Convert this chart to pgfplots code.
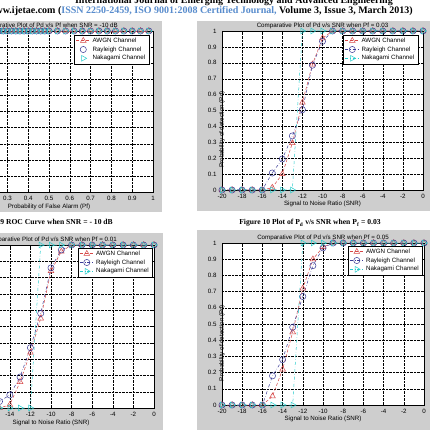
\documentclass[border=0pt]{standalone}
\usepackage{fontspec}
\setmainfont{Liberation Serif}
\setsansfont{Liberation Sans}
\usepackage{pgfplots}
\usepackage{pgfplotstable}
\pgfplotsset{compat=1.18}

\definecolor{panel}{RGB}{206,206,206}
\definecolor{awgn}{RGB}{214,72,72}
\definecolor{ray}{RGB}{58,58,150}
\definecolor{naka}{RGB}{40,205,205}
\definecolor{hdrblue}{RGB}{88,140,205}

\newcommand\plotfont{\sffamily\fontsize{6.2}{7}\selectfont}
\newcommand\capfont{\rmfamily\bfseries\fontsize{7.6}{9}\selectfont}

% Pd versus SNR, Pf = 0.03
\pgfplotstableread{
snr awgn ray naka
-20 0 0 0
-19 0 0 0
-18 0 0 0
-17 0 0 0
-16 0 0 0
-15 0.015 0.107 0
-14 0.10 0.195 0
-13 0.295 0.34 0
-12 0.55 0.505 1
-11 0.79 0.785 1
-10 0.955 0.935 1
-9 1 1 1
-8 1 1 1
-7 1 1 1
-6 1 1 1
-5 1 1 1
-4 1 1 1
-3 1 1 1
-2 1 1 1
-1 1 1 1
0 1 1 1
}\tabPfA

% Pd versus SNR, Pf = 0.01
\pgfplotstableread{
snr awgn ray naka
-20 0 0 0
-19 0 0 0
-18 0 0 0
-17 0 0 0
-16 0 0 0
-15 0 0.04 0
-14 0.02 0.08 0
-13 0.16 0.19 0
-12 0.34 0.37 0
-11 0.55 0.58 1
-10 0.84 0.86 1
-9 0.96 0.97 1
-8 1 1 1
-7 1 1 1
-6 1 1 1
-5 1 1 1
-4 1 1 1
-3 1 1 1
-2 1 1 1
-1 1 1 1
0 1 1 1
}\tabPfB

% Pd versus SNR, Pf = 0.05
\pgfplotstableread{
snr awgn ray naka
-20 0 0 0
-19 0 0 0
-18 0 0 0
-17 0 0 0
-16 0 0 0
-15 0.054 0.18 0
-14 0.22 0.28 0
-13 0.45 0.48 0
-12 0.72 0.67 1
-11 0.90 0.86 1
-10 0.975 0.97 1
-9 1 1 1
-8 1 1 1
-7 1 1 1
-6 1 1 1
-5 1 1 1
-4 1 1 1
-3 1 1 1
-2 1 1 1
-1 1 1 1
0 1 1 1
}\tabPfC

% ROC at SNR = -10 dB
\pgfplotstableread{
pf awgn ray naka
0.02 1 1 1
0.04 1 1 1
0.06 1 1 1
0.08 1 1 1
0.10 1 1 1
0.12 1 1 1
0.14 1 1 1
0.16 1 1 1
0.18 1 1 1
0.20 1 1 1
0.22 1 1 1
0.24 1 1 1
0.26 1 1 1
0.28 1 1 1
0.30 1 1 1
0.32 1 1 1
0.34 1 1 1
0.36 1 1 1
0.38 1 1 1
0.40 1 1 1
0.42 1 1 1
0.44 1 1 1
0.46 1 1 1
0.48 1 1 1
0.50 1 1 1
0.54 1 1 1
0.58 1 1 1
0.62 1 1 1
0.66 1 1 1
0.70 1 1 1
0.74 1 1 1
0.78 1 1 1
0.82 1 1 1
0.86 1 1 1
0.90 1 1 1
0.94 1 1 1
0.98 1 1 1
}\tabROC

\pgfplotsset{
  matfig/.style={
    scale only axis,
    anchor=south west,
    clip=false,
    ymin=0, ymax=1,
    ytick={0,0.1,0.2,0.3,0.4,0.5,0.6,0.7,0.8,0.9,1},
    yticklabels={0,0.1,0.2,0.3,0.4,0.5,0.6,0.7,0.8,0.9,1},
    axis background/.style={fill=white},
    grid=major,
    grid style={black, densely dotted, line width=0.35pt},
    tick align=inside,
    major tick length=2pt,
    tick style={black, line width=0.35pt},
    axis line style={black, line width=0.45pt},
    ticklabel style={font=\plotfont},
    /pgf/number format/assume math mode=true,
    xticklabel style={yshift=-1pt},
    yticklabel style={xshift=-2pt},
    every axis title/.style={font=\plotfont, at={(0.5,1)}, anchor=south, inner sep=1pt, yshift=1pt},
    every axis x label/.style={at={(axis description cs:0.5,0)}, anchor=center, yshift=-14pt, font=\plotfont},
    every axis y label/.style={at={(axis description cs:0,0.5)}, anchor=center, rotate=90, xshift=-19pt, font=\plotfont},
    legend style={font=\plotfont, draw=black, fill=white, line width=0.45pt,
      inner xsep=1.5pt, inner ysep=0.5pt, row sep=-1.2pt,
      at={(1,1)}, anchor=north east, cells={anchor=west}},
    legend image code/.code={\draw[mark repeat=2,mark phase=2] plot coordinates {(0pt,0pt) (7pt,0pt) (14pt,0pt)};},
  },
  snraxis/.style={
    matfig,
    xmin=-20, xmax=0,
    xtick={-20,-18,-16,-14,-12,-10,-8,-6,-4,-2,0},
    xticklabels={-20,-18,-16,-14,-12,-10,-8,-6,-4,-2,0},
    xlabel={Signal to Noise Ratio (SNR)},
    ylabel={Probability of detection (Pd)},
  },
  awgnline/.style={awgn, densely dashed, line width=0.5pt, mark=triangle, mark size=3.3pt, mark options={solid, line width=0.5pt}},
  rayline/.style={ray, dash dot, line width=0.5pt, mark=o, mark size=3.1pt, mark options={solid, line width=0.5pt}},
  nakaline/.style={naka, dash dot, line width=0.5pt, mark=triangle, mark size=3.3pt, mark options={solid, rotate=-90, line width=0.5pt}},
}

\begin{document}
\begin{tikzpicture}[x=1pt,y=1pt]
\path[use as bounding box] (0,0) rectangle (434,429);
\clip (0,0) rectangle (434,429);
\fill[white] (0,0) rectangle (434,429);

% journal header
\node[anchor=base east, inner sep=0, font=\rmfamily\bfseries\fontsize{10}{12}\selectfont] at (393,425.5)
  {International Journal of Emerging Technology and Advanced Engineering};
\node[anchor=base east, inner sep=0, font=\rmfamily\bfseries\fontsize{10}{12}\selectfont] at (413,415)
  {www.ijetae.com (\textcolor{hdrblue}{ISSN 2250-2459, ISO 9001:2008 Certified Journal,} Volume 3, Issue 3, March 2013)};

% figure backgrounds
\fill[panel] (-90,217) rectangle (162,408);
\fill[panel] (197,218) rectangle (430,408);
\fill[panel] (-90,-20) rectangle (163,196);
\fill[panel] (197,-20) rectangle (430,199);

% captions
\node[anchor=base east, inner sep=0, font=\capfont] at (113,204)
  {Figure 9 ROC Curve when SNR = - 10 dB};
\node[anchor=base, inner sep=0, font=\capfont] at (310,204)
  {Figure 10 Plot of P\textsubscript{d} v/s SNR when P\textsubscript{f} = 0.03};

% ROC curve
\begin{axis}[matfig, at={(-55pt,237pt)}, width=208pt, height=161pt,
  xmin=0, xmax=1,
  xtick={0,0.1,0.2,0.3,0.4,0.5,0.6,0.7,0.8,0.9,1},
  xticklabels={0,0.1,0.2,0.3,0.4,0.5,0.6,0.7,0.8,0.9,1},
  title={Comparative Plot of Pd v/s Pf when SNR = -10 dB},
  xlabel={Probability of False Alarm (Pf)},
  ylabel={Probability of detection (Pd)},
  every axis x label/.append style={yshift=-1pt},
  legend style={xshift=-4pt, yshift=-4pt}]
\addplot[awgnline] table[x=pf, y=awgn] {\tabROC};
\addlegendentry{AWGN Channel}
\addplot[rayline, only marks] table[x=pf, y=ray] {\tabROC};
\addlegendentry{Rayleigh Channel}
\addplot[nakaline, only marks] table[x=pf, y=naka] {\tabROC};
\addlegendentry{Nakagami Channel}
\end{axis}

% Pf = 0.03
\begin{axis}[snraxis, at={(222pt,239pt)}, width=201pt, height=159pt,
  title={Comparative Plot of Pd v/s SNR when Pf = 0.03},
  legend style={xshift=-5pt, yshift=-4pt}]
\addplot[awgnline] table[x=snr, y=awgn] {\tabPfA};
\addlegendentry{AWGN Channel}
\addplot[rayline] table[x=snr, y=ray] {\tabPfA};
\addlegendentry{Rayleigh Channel}
\addplot[nakaline] table[x=snr, y=naka] {\tabPfA};
\addlegendentry{Nakagami Channel}
\end{axis}

% Pf = 0.01
\begin{axis}[snraxis, at={(-52pt,21pt)}, width=206pt, height=163pt,
  title={Comparative Plot of Pd v/s SNR when Pf = 0.01},
  every axis x label/.append style={yshift=-1pt},
  legend style={xshift=-1.5pt, yshift=-3pt}]
\addplot[awgnline] table[x=snr, y=awgn] {\tabPfB};
\addlegendentry{AWGN Channel}
\addplot[rayline] table[x=snr, y=ray] {\tabPfB};
\addlegendentry{Rayleigh Channel}
\addplot[nakaline] table[x=snr, y=naka] {\tabPfB};
\addlegendentry{Nakagami Channel}
\end{axis}

% Pf = 0.05
\begin{axis}[snraxis, at={(222pt,24pt)}, width=202pt, height=162pt,
  title={Comparative Plot of Pd v/s SNR when Pf = 0.05},
  legend style={xshift=-1.5pt, yshift=-3pt}]
\addplot[awgnline] table[x=snr, y=awgn] {\tabPfC};
\addlegendentry{AWGN Channel}
\addplot[rayline] table[x=snr, y=ray] {\tabPfC};
\addlegendentry{Rayleigh Channel}
\addplot[nakaline] table[x=snr, y=naka] {\tabPfC};
\addlegendentry{Nakagami Channel}
\end{axis}
\end{tikzpicture}
\end{document}
